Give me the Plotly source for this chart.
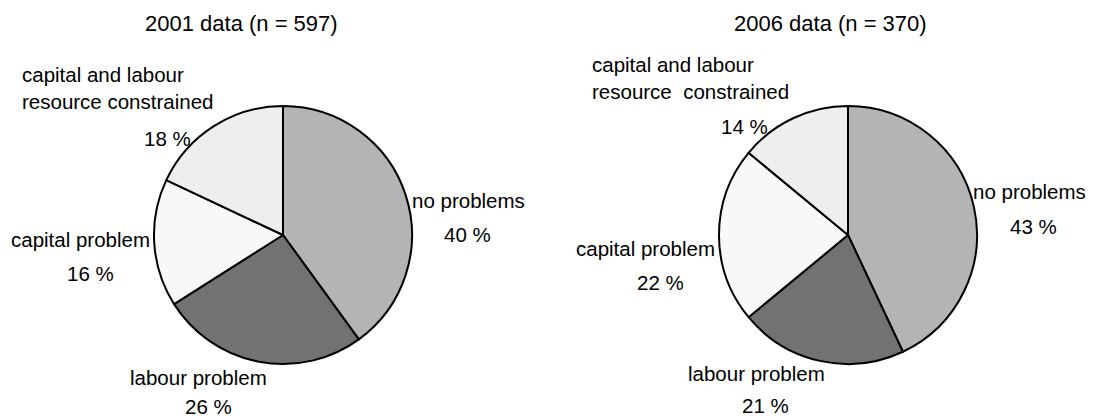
import plotly.graph_objects as go

# Survey categories (slice order, clockwise from 12 o'clock)
categories = [
    "no problems",
    "labour problem",
    "capital problem",
    "capital and labour resource constrained",
]
shares_2001 = [40, 26, 16, 18]
shares_2006 = [43, 21, 22, 14]
titles = ["2001 data (n = 597)", "2006 data (n = 370)"]

slice_colors = ["#b3b4b6", "#717274", "#f8f8f8", "#eeeeee"]
FONT = "Liberation Sans, Arial, sans-serif"
W, H = 1097, 418
LABEL_SIZE = 20.5
TITLE_SIZE = 22


def px(x, y):
    """Convert pixel position to paper coordinates."""
    return x / W, 1 - y / H


fig = go.Figure()

# Pie placement: centre (pixels) and radius
pies = [
    dict(values=shares_2001, cx=283, cy=235, r=129),
    dict(values=shares_2006, cx=848, cy=235, r=129),
]
for p in pies:
    fig.add_trace(go.Pie(
        labels=categories,
        values=p["values"],
        sort=False,
        direction="clockwise",
        rotation=0,
        textinfo="none",
        hoverinfo="label+percent",
        showlegend=False,
        marker=dict(colors=slice_colors, line=dict(color="#000000", width=2)),
        domain=dict(
            x=[(p["cx"] - p["r"]) / W, (p["cx"] + p["r"]) / W],
            y=[1 - (p["cy"] + p["r"]) / H, 1 - (p["cy"] - p["r"]) / H],
        ),
    ))

annotations = []


def add_text(text, x, y, size=LABEL_SIZE, xanchor="center", align="center"):
    ax, ay = px(x, y)
    annotations.append(dict(
        text=text, x=ax, y=ay, xref="paper", yref="paper",
        xanchor=xanchor, yanchor="middle", align=align, showarrow=False,
        font=dict(family=FONT, size=size, color="#000000"),
    ))


# Chart titles
add_text(titles[0], 241, 23, size=TITLE_SIZE)
add_text(titles[1], 830, 23, size=TITLE_SIZE)

# Slice labels: name line, then the percentage underneath
label_layout = [
    # 2001 pie
    [
        dict(name=(468, 200), pct=(467, 234)),
        dict(name=(198, 377), pct=(208, 406)),
        dict(name=(80, 239), pct=(90, 273)),
        dict(name=(20, 88), pct=(167, 138), left=True),
    ],
    # 2006 pie
    [
        dict(name=(1029, 192), pct=(1033, 226)),
        dict(name=(756, 373), pct=(765, 405)),
        dict(name=(645, 248), pct=(660, 282)),
        dict(name=(590, 78), pct=(744, 126), left=True),
    ],
]
name_text = [
    ["no problems", "labour problem", "capital problem",
     "capital and labour<br>resource constrained"],
    ["no problems", "labour problem", "capital problem",
     "capital and labour<br>resource  constrained"],
]

for shares, layout_rows, names in zip([shares_2001, shares_2006], label_layout, name_text):
    for val, pos, nm in zip(shares, layout_rows, names):
        if pos.get("left"):
            add_text(nm, pos["name"][0], pos["name"][1], xanchor="left", align="left")
        else:
            add_text(nm, pos["name"][0], pos["name"][1])
        add_text(f"{val} %", pos["pct"][0], pos["pct"][1])

fig.update_layout(
    width=W,
    height=H,
    margin=dict(l=0, r=0, t=0, b=0),
    paper_bgcolor="#ffffff",
    plot_bgcolor="#ffffff",
    annotations=annotations,
    font=dict(family=FONT),
)

fig.write_html("out.html")
